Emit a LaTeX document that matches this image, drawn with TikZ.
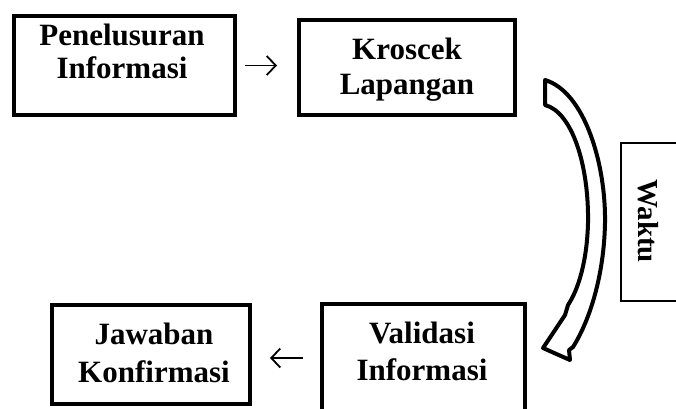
\documentclass[tikz,border=0pt]{standalone}
\usepackage{fontspec}
\setmainfont{Liberation Serif}
\usetikzlibrary{arrows.meta}
\begin{document}
\begin{tikzpicture}[x=1pt,y=-1pt,
  box/.style={draw, line width=4pt, minimum width=#1, inner sep=0pt},
  lbl/.style={anchor=base, inner sep=0pt, font=\bfseries\fontsize{31}{36}\selectfont},
  flowarrow/.style={line width=1.8pt, -{Straight Barb[length=9pt,width=19pt,line width=1.8pt]}},
]
\fill[white] (0,0) rectangle (676,408);
\clip (0,0) rectangle (676,408);
% boxes
\node[box=221pt, minimum height=99pt] (b1) at (124.5,65.5) {};
\node[box=216pt, minimum height=95pt] (b2) at (407,67.5) {};
\node[box=198pt, minimum height=99pt] (b3) at (151,354.5) {};
\node[box=203pt, minimum height=116pt] (b4) at (423.5,362) {};
% texts
\node[lbl] (t1a) at (122,45) {Penelusuran};
\node[lbl] (t1b) at (122,78) {Informasi};
\node[lbl] (t2a) at (407,59) {Kroscek};
\node[lbl] (t2b) at (407,94) {Lapangan};
\node[lbl] (t3a) at (154,344) {Jawaban};
\node[lbl] (t3b) at (154,382) {Konfirmasi};
\node[lbl] (t4a) at (422,343) {Validasi};
\node[lbl] (t4b) at (422,380) {Informasi};
% arrows
\draw[flowarrow, shorten <=8pt, shorten >=20pt] (b1.east) -- (b1.east -| b2.west);
\draw[flowarrow, shorten <=17pt, shorten >=18pt] ([yshift=4pt]b4.west) -- ([yshift=4pt]b4.west -| b3.east);
% curved band arrow
\draw[line width=4pt, line join=round, fill=white]
  (545,80) .. controls (585,92) and (606,165) .. (605,223)
  .. controls (604,275) and (590,320) .. (573,347)
  -- (569,350) -- (570,360) -- (543,348) -- (565,315) -- (568,305)
  .. controls (578,290) and (587,262) .. (588,223)
  .. controls (589,165) and (572,112) .. (545,105) -- cycle;
% Waktu box
\node[draw, line width=1.5pt, minimum width=80pt, minimum height=158pt, anchor=north west, inner sep=0pt] (w) at (620,142) {};
\node[rotate=-90, inner sep=0pt, font=\bfseries\fontsize{29}{34}\selectfont] (wt) at (648,221) {Waktu};
\end{tikzpicture}
\end{document}
